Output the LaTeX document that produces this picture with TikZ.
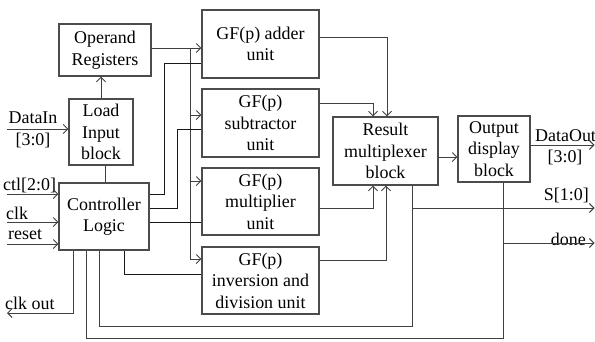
\documentclass[tikz,border=0pt]{standalone}
\usepackage{fontspec}
\setmainfont{Liberation Serif}
\usetikzlibrary{arrows.meta}
\tikzset{
  box/.style={draw=black!70, line width=1.1bp, align=center, inner sep=0pt,
    font=\fontsize{18}{21.5}\selectfont},
  lbl/.style={inner sep=0pt, font=\fontsize{18}{21.5}\selectfont},
  wire/.style={draw=black!75, line width=1bp},
  ctlw/.style={draw=black!90, line width=1bp},
  arr/.style={wire, -{Straight Barb[length=4.5bp,width=9bp]}},
}
\begin{document}
\begin{tikzpicture}[x=1bp,y=-1bp]
\useasboundingbox (0,0) rectangle (595,341);
% boxes
\node[box, minimum width=92bp, minimum height=52bp] (ops) at (105,50) {Operand\\Registers};
\node[box, minimum width=64bp, minimum height=66bp] (load) at (101,132) {Load\\Input\\block};
\node[box, minimum width=90bp, minimum height=67bp] (ctrl) at (104,216.5) {Controller\\Logic};
\node[box, minimum width=117bp, minimum height=68bp] (add) at (260.5,44) {GF(p) adder\\unit};
\node[box, minimum width=117bp, minimum height=68bp] (sub) at (260.5,123) {GF(p)\\subtractor\\unit};
\node[box, minimum width=117bp, minimum height=67bp] (mul) at (260.5,201.5) {GF(p)\\multiplier\\unit};
\node[box, minimum width=117bp, minimum height=67bp] (inv) at (260.5,280.5) {GF(p)\\inversion and\\division unit};
\node[box, minimum width=105bp, minimum height=68bp] (mux) at (385.5,151) {Result\\multiplexer\\block};
\node[box, minimum width=72bp, minimum height=66bp] (out) at (494,149) {Output\\display\\block};
% labels
\node[lbl] (ldin) at (33,118) {DataIn};
\node[lbl] (ldin2) at (33,140) {[3:0]};
\node[lbl, anchor=west] (lctl) at (3,185) {ctl[2:0]};
\node[lbl, anchor=west] (lclk) at (6,213) {clk};
\node[lbl, anchor=west] (lrst) at (8,235) {reset};
\node[lbl, anchor=west] (lclko) at (5,303) {clk out};
\node[lbl, anchor=west] (ldout) at (535,136) {DataOut};
\node[lbl] (ldout2) at (565,157) {[3:0]};
\node[lbl, anchor=east] (ls) at (589,195) {S[1:0]};
\node[lbl, anchor=east] (ldone) at (586,239) {done};
% coordinates
\coordinate (din) at (7,129);
\coordinate (ictl) at (7,194);
\coordinate (iclk) at (7,222);
\coordinate (irst) at (7,244);
\coordinate (clko) at (7,313);
\coordinate (b1) at (190,48);
\coordinate (b2) at (190,115);
\coordinate (b3) at (190,181);
\coordinate (b4) at (190,259);
\coordinate (k1a) at (164,194);
\coordinate (k1b) at (164,63);
\coordinate (k2a) at (177,208);
\coordinate (k2b) at (177,129);
\coordinate (k3) at (170,222);
\coordinate (k4) at (124,274);
\coordinate (m1) at (387,37);
\coordinate (m2) at (373,103);
\coordinate (m3) at (373,208);
\coordinate (m4) at (386,260);
\coordinate (q) at (450,157);
\coordinate (dout) at (594.5,145);
\coordinate (s1) at (412,208);
\coordinate (send) at (594.5,208);
\coordinate (f1) at (412,326);
\coordinate (f2) at (503,338);
\coordinate (d1) at (503,243);
\coordinate (dend) at (594.5,243);
% inputs
\draw[arr] (din) -- (din -| load.west);
\draw[arr] (ictl) -- (ictl -| ctrl.west);
\draw[arr] (iclk) -- (iclk -| ctrl.west);
\draw[arr] (irst) -- (irst -| ctrl.west);
\draw[arr] ([xshift=-31bp]ctrl.south) |- (clko);
% load / operand
\draw[arr] (load.north) -- (load.north |- ops.south);
\draw[wire] ([xshift=4bp]load.south) -- ([xshift=4bp]load.south |- ctrl.north);
% operand bus
\draw[arr] (ops.east |- b1) -- (add.west |- b1);
\draw[wire] (b1) -- (b4);
\draw[arr] (b2) -- (sub.west |- b2);
\draw[arr] (b3) -- (mul.west |- b3);
\draw[arr] (b4) -- (inv.west |- b4);
% control lines
\draw[ctlw] (ctrl.east |- k1a) -- (k1a) -- (k1b) -- (add.west |- k1b);
\draw[ctlw] (ctrl.east |- k2a) -- (k2a) -- (k2b) -- (sub.west |- k2b);
\draw[ctlw] (ctrl.east |- k3) -- (mul.west |- k3);
\draw[ctlw] (ctrl.south -| k4) -- (k4) -- (inv.west |- k4);
% unit outputs
\draw[arr] (add.east |- m1) -| (mux.north -| m1);
\draw[arr] (sub.east |- m2) -| (mux.north -| m2);
\draw[arr] (mul.east |- m3) -| (mux.south -| m3);
\draw[arr] (inv.east |- m4) -| (mux.south -| m4);
% mux -> out
\draw[arr] (mux.east |- q) -- (out.west |- q);
\draw[arr] (out.east |- dout) -- (dout);
% feedback
\draw[wire] (mux.south -| f1) -- (f1) -| ([xshift=-5bp]ctrl.south);
\draw[wire] (out.south -| f2) -- (f2) -| ([xshift=-18bp]ctrl.south);
\draw[arr] (s1) -- (send);
\draw[arr] (d1) -- (dend);
\end{tikzpicture}
\end{document}
